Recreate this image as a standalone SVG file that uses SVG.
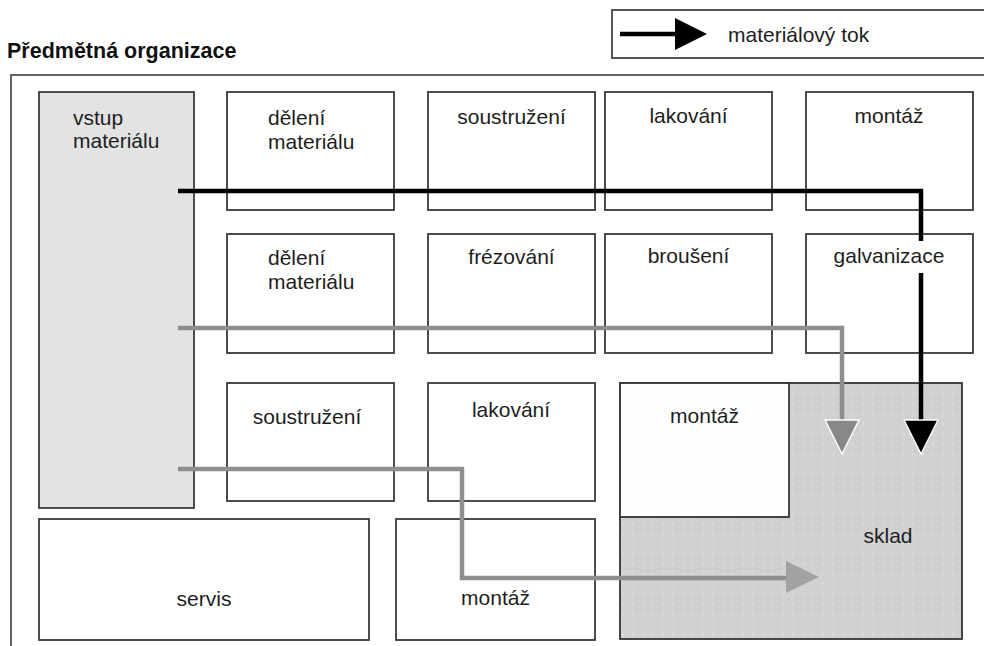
<svg xmlns="http://www.w3.org/2000/svg" width="984" height="646" viewBox="0 0 984 646">
  <style>
    .box { fill: #ffffff; stroke: #3a3a3a; stroke-width: 1.8; }
    .lbl { font-family: "Liberation Sans", Arial, sans-serif; font-size: 21px; fill: #1e1e1e; }
    .mid { text-anchor: middle; }
    .title { font-family: "Liberation Sans", Arial, sans-serif; font-size: 21.5px; font-weight: bold; fill: #111; }
    .flow-main { fill: none; stroke: #000; stroke-width: 4.5; }
    .flow-alt { fill: none; stroke: #8e8e8e; stroke-width: 4.5; }
  </style>
  <defs>
    <pattern id="dots" width="10" height="10" patternUnits="userSpaceOnUse">
      <rect width="10" height="10" fill="#d1d1d1"/>
      <circle cx="3" cy="4" r="0.9" fill="#e3e3e3"/>
      <circle cx="8" cy="9" r="0.8" fill="#c4c4c4"/>
    </pattern>
    <pattern id="faint" width="8" height="8" patternUnits="userSpaceOnUse">
      <rect width="8" height="8" fill="#ffffff"/>
      <circle cx="2" cy="3" r="0.6" fill="#ececec"/>
    </pattern>
  </defs>

  <rect width="984" height="646" fill="#ffffff"/>

  <!-- heading and legend -->
  <text id="title" class="title" x="7" y="58">Předmětná organizace</text>
  <g id="legend">
    <rect x="612" y="10" width="400" height="48" fill="#fff" stroke="#444" stroke-width="1.8"/>
    <line x1="620" y1="34" x2="677" y2="34" stroke="#000" stroke-width="4.5"/>
    <polygon points="675,18 707,34 675,50" fill="#000"/>
    <text class="lbl" x="728" y="42">materiálový tok</text>
  </g>

  <!-- hall outline (open to the right and bottom) -->
  <rect id="hall" x="11" y="75" width="1100" height="700" fill="none" stroke="#555" stroke-width="1.8"/>

  <g id="nodes">
    <g id="vstup">
      <rect x="39" y="92" width="155" height="416" fill="#e3e3e3" stroke="#3a3a3a" stroke-width="1.8"/>
      <text class="lbl" x="73" y="125">vstup</text>
      <text class="lbl" x="73" y="148">materiálu</text>
    </g>
    <g id="deleni1">
      <rect class="box" x="227" y="92" width="167" height="118"/>
      <text class="lbl" x="268" y="125">dělení</text>
      <text class="lbl" x="268" y="149">materiálu</text>
    </g>
    <g id="soustruzeni1">
      <rect class="box" x="428" y="92" width="167" height="118"/>
      <text class="lbl mid" x="511.5" y="124">soustružení</text>
    </g>
    <g id="lakovani1">
      <rect class="box" x="605" y="92" width="167" height="118"/>
      <text class="lbl mid" x="688.5" y="123">lakování</text>
    </g>
    <g id="montaz1">
      <rect class="box" x="806" y="92" width="167" height="118"/>
      <text class="lbl mid" x="889" y="123">montáž</text>
    </g>

    <g id="deleni2">
      <rect class="box" x="227" y="234" width="167" height="119"/>
      <text class="lbl" x="268" y="265">dělení</text>
      <text class="lbl" x="268" y="289">materiálu</text>
    </g>
    <g id="frezovani">
      <rect class="box" x="428" y="234" width="167" height="119"/>
      <text class="lbl mid" x="511.5" y="264">frézování</text>
    </g>
    <g id="brouseni">
      <rect class="box" x="605" y="234" width="167" height="119"/>
      <text class="lbl mid" x="688.5" y="263">broušení</text>
    </g>
    <g id="galvanizace">
      <rect class="box" x="806" y="234" width="167" height="119"/>
      <text class="lbl mid" x="889" y="263">galvanizace</text>
    </g>

    <g id="soustruzeni2">
      <rect class="box" x="227" y="383" width="167" height="118"/>
      <text class="lbl mid" x="307" y="424">soustružení</text>
    </g>
    <g id="lakovani2">
      <rect class="box" x="428" y="383" width="167" height="118"/>
      <text class="lbl mid" x="511" y="417">lakování</text>
    </g>

    <g id="servis">
      <rect class="box" x="39" y="519" width="330" height="121"/>
      <text class="lbl mid" x="204" y="606">servis</text>
    </g>
    <g id="montaz3">
      <rect class="box" x="396" y="519" width="199" height="121"/>
      <text class="lbl mid" x="495.5" y="605">montáž</text>
    </g>

    <g id="sklad">
      <rect x="620" y="383" width="342" height="256" fill="url(#dots)" stroke="#333" stroke-width="1.8"/>
      <text class="lbl mid" x="888" y="543">sklad</text>
    </g>
    <g id="montaz2">
      <rect x="620" y="383" width="169" height="134" fill="url(#faint)" stroke="#333" stroke-width="1.8"/>
      <text class="lbl mid" x="704.5" y="423">montáž</text>
    </g>
  </g>

  <g id="connectors">
    <!-- main flow, interrupted where it passes the galvanizace label -->
    <path class="flow-main" d="M178,191 H921 V241 M921,273 V422"/>
    <polygon points="904,420 938,420 921,454" fill="#000" stroke="#fff" stroke-width="1.5" stroke-linejoin="round"/>
    <!-- second flow -->
    <path class="flow-alt" d="M178,328 H842 V422"/>
    <polygon points="825,420 859,420 842,454" fill="#888" stroke="#fff" stroke-width="1.5" stroke-linejoin="round"/>
    <!-- third flow -->
    <path class="flow-alt" d="M178,469 H462 V578 H788"/>
    <polygon points="786,561 819,577 786,593" fill="#a2a2a2"/>
  </g>
</svg>
